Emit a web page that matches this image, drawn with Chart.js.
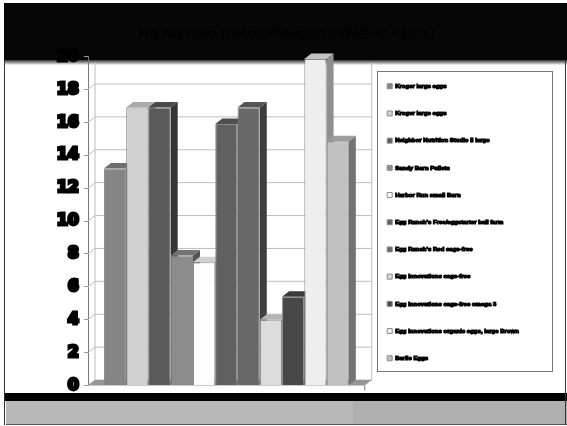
<!DOCTYPE html>
<html>
<head>
<meta charset="utf-8">
<style>
  html, body { margin: 0; padding: 0; background: #fff; }
  canvas { display: block; }
</style>
<script src="https://cdn.jsdelivr.net/npm/chart.js@4"></script>
</head>
<body>
<canvas id="chart" width="567" height="426"></canvas>
<script>
const categories = [''];
const seriesNames = [
  'Kroger large eggs',
  'Kroger large eggs',
  'Neighbor Nutrition Studio II large',
  'Sandy Barn Pullets',
  'Harbor Run small Barn',
  "Egg Ranch's Free/eggstarter ball farm",
  "Egg Ranch's Red cage-free",
  'Egg Innovations cage-free',
  'Egg Innovations cage-free omega 3',
  'Egg Innovations organic eggs, large Brown',
  'Barlie Eggs'
];
const seriesValues = [13.2, 16.9, 16.9, 7.9, 7.5, 15.9, 16.9, 4, 5.4, 19.85, 14.85];
const barColors = ['#858585', '#d0d0d0', '#5a5a5a', '#8c8c8c', '#fdfdfd', '#606060', '#686868', '#dcdcdc', '#484848', '#eeeeee', '#c0c0c0'];
const titleText = 'N6:N3 ratio (recommended intake is <10:1)';

// profundidade do efeito 3D
const depthX = 7, depthY = 5.5;

function shade(hex, k) {
  const n = Math.round(parseInt(hex.slice(1, 3), 16) * k);
  return 'rgb(' + n + ',' + n + ',' + n + ')';
}

function poly(ctx, pts, fill) {
  ctx.beginPath();
  pts.forEach((p, i) => i ? ctx.lineTo(p[0], p[1]) : ctx.moveTo(p[0], p[1]));
  ctx.closePath();
  ctx.fillStyle = fill;
  ctx.fill();
}

const backdrop = {
  id: 'backdrop',
  // a legenda e o título ficam fora da caixa que o layout calcula
  afterLayout(chart) {
    const lg = chart.legend, tb = chart.titleBlock;
    lg.left = 366;
    lg.right = lg.left + lg.width;
    lg.top = 29.5;
    lg.bottom = lg.top + lg.height;
    tb.left = 6;
    tb.right = 567;
  },
  beforeDraw(chart) {
    const ctx = chart.ctx;
    ctx.save();
    ctx.fillStyle = '#fff';
    ctx.fillRect(0, 0, 567, 426);
    ctx.fillStyle = '#060606';
    ctx.fillRect(4, 3, 563, 57);
    const g = ctx.createLinearGradient(0, 60, 0, 65);
    g.addColorStop(0, '#333');
    g.addColorStop(1, '#fafafa');
    ctx.fillStyle = g;
    ctx.fillRect(4, 60, 563, 5);
    ctx.fillStyle = '#000';
    ctx.fillRect(4, 393, 563, 8);
    ctx.fillStyle = '#b8b8b8';
    ctx.fillRect(6, 401, 347, 23);
    ctx.fillStyle = '#b0b0b0';
    ctx.fillRect(353, 401, 214, 23);
    ctx.fillStyle = '#555';
    ctx.fillRect(6, 424, 561, 1);
    ctx.fillStyle = '#333';
    ctx.fillRect(4, 60, 1, 365);
    ctx.fillRect(565, 60, 1, 365);
    ctx.strokeStyle = '#777';
    ctx.lineWidth = 1;
    ctx.strokeRect(377.5, 71.5, 175, 300);
    ctx.restore();
  },
  beforeDatasetsDraw(chart) {
    const ctx = chart.ctx, y = chart.scales.y, a = chart.chartArea;
    ctx.save();
    ctx.lineWidth = 1;
    ctx.strokeStyle = '#bdbdbd';
    y.ticks.forEach(t => {
      const py = y.getPixelForValue(t.value);
      if (py - depthY > 62) {
        ctx.beginPath();
        ctx.moveTo(a.left, py);
        ctx.lineTo(a.left + depthX, py - depthY);
        ctx.lineTo(a.right + depthX, py - depthY);
        ctx.stroke();
      }
    });
    ctx.beginPath();
    ctx.moveTo(a.left + depthX, 62);
    ctx.lineTo(a.left + depthX, a.bottom - depthY);
    ctx.moveTo(a.right + depthX, 62);
    ctx.lineTo(a.right + depthX, a.bottom - depthY);
    ctx.stroke();
    poly(ctx, [[a.left, a.bottom], [a.left + depthX, a.bottom - depthY], [a.right + depthX, a.bottom - depthY], [a.right, a.bottom]], '#969696');
    ctx.strokeStyle = '#777';
    ctx.beginPath();
    ctx.moveTo(a.right, a.bottom);
    ctx.lineTo(a.right, a.bottom + 5);
    ctx.stroke();
    // lateral e topo das barras, da esquerda para a direita; a face frontal vem depois
    seriesValues.forEach((v, i) => {
      const bar = chart.getDatasetMeta(i).data[0];
      const w = bar.width / 2, l = bar.x - w, r = bar.x + w, t = bar.y, b = bar.base;
      poly(ctx, [[r, t], [r + depthX, t - depthY], [r + depthX, b - depthY], [r, b]], shade(barColors[i], 0.6));
      poly(ctx, [[l, t], [l + depthX, t - depthY], [r + depthX, t - depthY], [r, t]], shade(barColors[i], 0.82));
    });
    ctx.restore();
  },
  afterDraw(chart) {
    // engrossa o texto da legenda
    const ctx = chart.ctx, lg = chart.legend;
    ctx.save();
    ctx.font = 'bold 6px "Liberation Sans"';
    ctx.textBaseline = 'middle';
    ctx.strokeStyle = '#000';
    ctx.lineWidth = 1.1;
    lg.legendItems.forEach((item, i) => {
      const h = lg.legendHitBoxes[i];
      ctx.strokeText(item.text, h.left + 8, h.top + h.height / 2);
    });
    ctx.restore();
  }
};

const datasets = seriesNames.map((name, i) => ({
  label: name,
  data: [seriesValues[i]],
  backgroundColor: barColors[i],
  borderColor: '#8a8a8a',
  borderWidth: 1
}));

new Chart(document.getElementById('chart').getContext('2d'), {
  type: 'bar',
  data: { labels: categories, datasets },
  plugins: [backdrop],
  options: {
    responsive: false,
    animation: false,
    layout: { padding: { left: 19, right: 87, bottom: 40.5, top: 0 } },
    datasets: { bar: { categoryPercentage: 0.885, barPercentage: 1 } },
    scales: {
      x: { display: false },
      y: {
        min: 0,
        max: 20,
        afterFit(scale) { scale.width = 69; },
        grid: { drawOnChartArea: false, tickLength: 4, color: '#999' },
        border: { color: '#777' },
        ticks: {
          stepSize: 2,
          padding: 5,
          color: '#000',
          textStrokeColor: '#000',
          textStrokeWidth: 3,
          font: { family: 'DejaVu Sans', size: 16, weight: 'bold' }
        }
      }
    },
    plugins: {
      tooltip: { enabled: false },
      title: {
        display: true,
        text: titleText,
        color: '#000',
        font: { family: 'Liberation Sans', size: 15.5, weight: 'normal' },
        padding: { top: 24, bottom: 14 }
      },
      legend: {
        position: 'right',
        labels: {
          boxWidth: 5,
          boxHeight: 5,
          padding: 21.2,
          color: '#000',
          font: { family: 'Liberation Sans', size: 6, weight: 'bold' }
        }
      }
    }
  }
});
</script>
</body>
</html>
